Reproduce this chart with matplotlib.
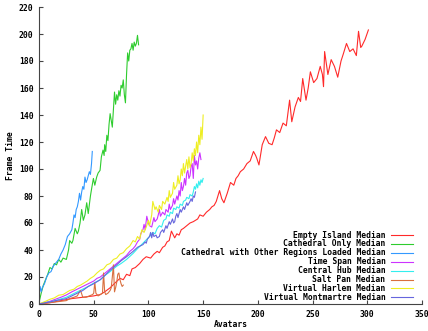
import matplotlib
matplotlib.use("Agg")
import matplotlib.pyplot as plt

# --- data ---
empty_x = [0, 10, 20, 30, 40, 50, 56, 60, 65, 70, 74, 77, 80, 83, 85, 88, 92, 95, 98, 102, 105,
           108, 110, 113, 115, 117, 119, 121, 124, 126, 128, 130, 132, 135, 138, 141, 143, 145,
           147, 150, 153, 156, 158, 160, 162, 165, 167, 169, 172, 175, 178, 180, 182, 184, 187,
           190, 193, 196, 198, 199, 201, 204, 207, 210, 213, 215, 217, 220, 223, 226, 229, 231,
           234, 237, 239, 241, 244, 246, 248, 251, 254, 257, 259, 260, 261, 264, 267, 270, 273,
           276, 278, 281, 284, 287, 290, 292, 294, 295, 298, 301]
empty_y = [0, 1, 2.5, 4, 5, 6, 7, 9, 12, 16, 19, 18, 22, 21, 26, 27, 30, 33, 35, 34, 37,
           39, 38, 42, 43, 46, 47, 54, 49, 52, 51, 55, 56, 58, 60, 61, 62, 63,
           66, 65, 68, 70, 72, 73, 76, 84, 78, 75, 82, 90, 88, 93, 95, 98, 100,
           104, 106, 113, 110, 108, 103, 118, 124, 119, 118, 123, 129, 127, 134, 132, 151, 135,
           146, 153, 150, 167, 151, 160, 172, 164, 167, 176, 170, 161, 187, 170, 181, 176, 168,
           180, 185, 193, 187, 189, 184, 202, 190, 191, 196, 203]

cath_x = [0, 2, 4, 6, 8, 10, 12, 14, 16, 18, 20, 22, 25, 27, 28, 30, 31, 33, 35, 36, 37.5, 39,
          40.5, 42, 43.6, 45, 47, 48, 49.7, 51, 52.7, 54, 55.8, 57, 58.5, 59.5, 60, 61, 62, 63,
          64, 65, 66, 67, 68, 69, 70, 71, 72, 73, 74, 75, 76, 77, 78, 79, 80, 81, 82, 83, 84,
          85, 86, 87, 88, 89, 90, 91]
cath_y = [1, 8, 14, 18, 22, 27, 26, 30, 29, 33, 31, 34, 33, 40, 47, 45, 47, 56, 52, 54, 60, 70,
          62, 66, 75, 67, 80, 85, 93, 88, 94, 97, 99, 109, 114, 110, 118, 113, 125, 121,
          133, 141, 136, 131, 144, 157, 148, 155, 151, 158, 154, 162, 160, 166, 155, 149, 170,
          186, 180, 188, 189, 193, 188, 194, 191, 193, 199, 192]

other_x = [0, 1, 2, 3, 5, 7, 9, 11, 13, 16, 18, 20, 22, 24, 26, 28, 30, 31, 32, 33, 34, 35,
           36, 37, 38, 39, 40, 41, 42, 43, 44, 45, 46, 47, 48, 48.7]
other_y = [6, 13, 9, 12, 15, 20, 23, 24, 28, 31, 33, 37, 40, 44, 50, 52, 55, 60, 66, 64, 70, 72,
           76, 82, 77, 83, 87, 85, 94, 90, 92, 95, 98, 96, 104, 113]

span_x = [0, 5, 10, 15, 20, 25, 30, 35, 40, 45, 50, 53, 56, 59, 62, 65, 68, 71, 74, 77, 80,
          83, 86, 88, 90, 92, 93, 95, 96, 97, 98.5, 100, 101, 103, 105, 106, 108, 109, 110,
          111, 113, 115, 116, 118, 119, 120, 122, 123, 124, 126, 127, 128, 129, 130, 131, 132,
          133, 134, 135, 136, 137, 138, 139, 140, 141, 142, 143, 144, 145, 146, 147, 148]
span_y = [0, 1, 2, 3.5, 5, 6.7, 9, 11, 13, 15, 17, 19, 20, 22, 24, 26, 28, 30, 32, 34, 36,
          39, 41, 43, 46, 48, 52, 55, 59, 55, 65, 60, 58, 57, 64, 61, 63, 66, 70,
          65, 68, 66, 70, 68, 74, 70, 73, 78, 74, 80, 77, 84, 80, 90, 84, 87,
          93, 88, 97, 99, 93, 95, 102, 104, 93, 110, 103, 106, 100, 108, 112, 107]

hub_x = [0, 5, 10, 15, 20, 25, 30, 35, 40, 45, 50, 56, 60, 65, 71, 75, 80, 86, 90, 95, 101,
         104, 106, 108, 110, 112, 114, 116, 117, 119, 120, 122, 123, 125, 126, 128, 129, 131,
         132, 134, 135, 137, 138, 140, 141, 142, 143, 144, 145, 146, 147, 148, 149, 150]
hub_y = [0, 1, 1.5, 2.5, 3.8, 5, 7, 9, 11, 13, 15.5, 18, 21, 24, 28, 30, 33, 37.5, 41, 45, 50,
         53, 52, 56, 58, 57, 62, 63, 66, 65, 68, 67, 71, 70, 72, 71, 74, 73,
         76, 77, 79, 78, 81, 80, 83, 87, 85, 89, 86, 91, 88, 92, 90, 93]

salt_x = [0, 5, 10, 15, 20, 25, 28, 32, 35, 37, 38, 40, 43, 46, 49, 50, 51, 52, 54, 56, 58,
          59, 60, 61, 63, 65, 66, 67, 68, 69, 70, 71, 72, 73, 74, 75, 76, 77]
salt_y = [0, 0.5, 1, 1.5, 2, 2.5, 4, 5, 6, 9, 10, 5, 5, 6, 7, 8, 16, 8, 6, 7, 8,
          23, 9, 7, 8, 10, 12, 20, 29, 9, 12, 16, 22, 23, 18, 15, 13, 14]

harlem_x = [0, 3, 6, 10, 14, 18, 22, 25, 28, 32, 35, 38, 41, 44, 47, 50, 53, 56, 59, 62, 65,
            68, 71, 74, 77, 80, 83, 86, 88, 90, 92, 94, 96, 98, 100, 101, 103, 104, 106, 107,
            109, 110, 112, 113, 115, 117, 118, 119, 120, 122, 123, 124, 126, 127, 128, 129,
            130, 131, 132, 133, 134, 135, 136, 137, 138, 139, 140, 141, 142, 143, 144, 145,
            146, 147, 148, 149, 150]
harlem_y = [0, 1, 2, 3.5, 4.5, 6.5, 7, 8.5, 10, 11, 13, 14, 15.5, 17, 19, 20.5, 23, 25, 26,
            29, 30, 33, 34, 37, 38, 41, 43, 47, 46, 50, 48, 55, 53, 57, 62, 58, 66, 76, 70,
            72, 68, 73, 70, 76, 74, 79, 76, 84, 79, 82, 90, 85, 88, 95, 89, 92,
            100, 95, 104, 97, 102, 107, 100, 109, 101, 104, 112, 106, 115, 110, 120, 112,
            125, 118, 131, 122, 140]

mont_x = [0, 5, 10, 15, 20, 25, 30, 35, 40, 45, 50, 56, 60, 65, 71, 75, 80, 86, 90, 95, 97,
          98, 99, 101, 102, 103, 104, 105, 107, 108, 110, 111, 113, 114, 116, 117, 119, 120,
          122, 123, 124, 125, 126, 127, 129, 130, 132, 133, 135, 136, 138, 139, 140, 141,
          142, 143]
mont_y = [0, 0.8, 1.5, 2.5, 3.2, 4, 6, 8, 10, 13, 15, 18, 21, 25, 29, 32, 35, 39, 42, 44, 46,
          45, 48, 50, 53, 49, 53, 50, 51, 49, 50, 53, 55, 53, 58, 56, 61, 59,
          63, 60, 61, 65, 67, 64, 70, 68, 72, 70, 75, 73, 76, 78, 76, 80,
          79, 83]

names = ["Empty Island Median", "Cathedral Only Median",
         "Cathedral with Other Regions Loaded Median", "Time Span Median",
         "Central Hub Median", "Salt Pan Median", "Virtual Harlem Median",
         "Virtual Montmartre Median"]
series = [(empty_x, empty_y), (cath_x, cath_y), (other_x, other_y), (span_x, span_y),
          (hub_x, hub_y), (salt_x, salt_y), (harlem_x, harlem_y), (mont_x, mont_y)]
colors = ['#ff2a2a', '#2ecc2e', '#3399ff', '#cc33ff', '#33eeee', '#d9703f', '#eeee22', '#6666dd']

FONT = dict(family='DejaVu Sans Mono', weight='bold', size=5.8)

fig = plt.figure(figsize=(4.28, 3.31), dpi=100)
ax = fig.add_axes([39 / 428, 27 / 331, 383 / 428, 297 / 331])

for (xs, ys), c in zip(series, colors):
    ax.plot(xs, ys, color=c, lw=0.8)

ax.set_xlim(0, 350)
ax.set_ylim(0, 220)
ax.set_xticks(range(0, 351, 50))
ax.set_yticks(range(0, 221, 20))
ax.spines['top'].set_visible(False)
ax.spines['right'].set_visible(False)
for s in ('left', 'bottom'):
    ax.spines[s].set_color('#444444')
    ax.spines[s].set_linewidth(0.8)
ax.tick_params(direction='in', length=3, width=0.8, color='#444444', pad=4)
for lab in ax.get_xticklabels() + ax.get_yticklabels():
    lab.set_fontproperties(FONT)
ax.set_xlabel('Avatars', fontdict=FONT, labelpad=1)
ax.set_ylabel('Frame Time', fontdict=FONT, labelpad=3)

# gnuplot-style key: right-justified text, line sample on the right
for i, (name, c) in enumerate(zip(names, colors)):
    yp = 1 - (235 + i * 8.9 - 7) / 297
    ax.text((385.5 - 39) / 383, yp, name, transform=ax.transAxes, ha='right', va='center', **FONT)
    ax.plot([(390.5 - 39) / 383, (413 - 39) / 383], [yp, yp], transform=ax.transAxes,
            color=c, lw=0.8, clip_on=False)

fig.savefig('out.png', dpi=100)
